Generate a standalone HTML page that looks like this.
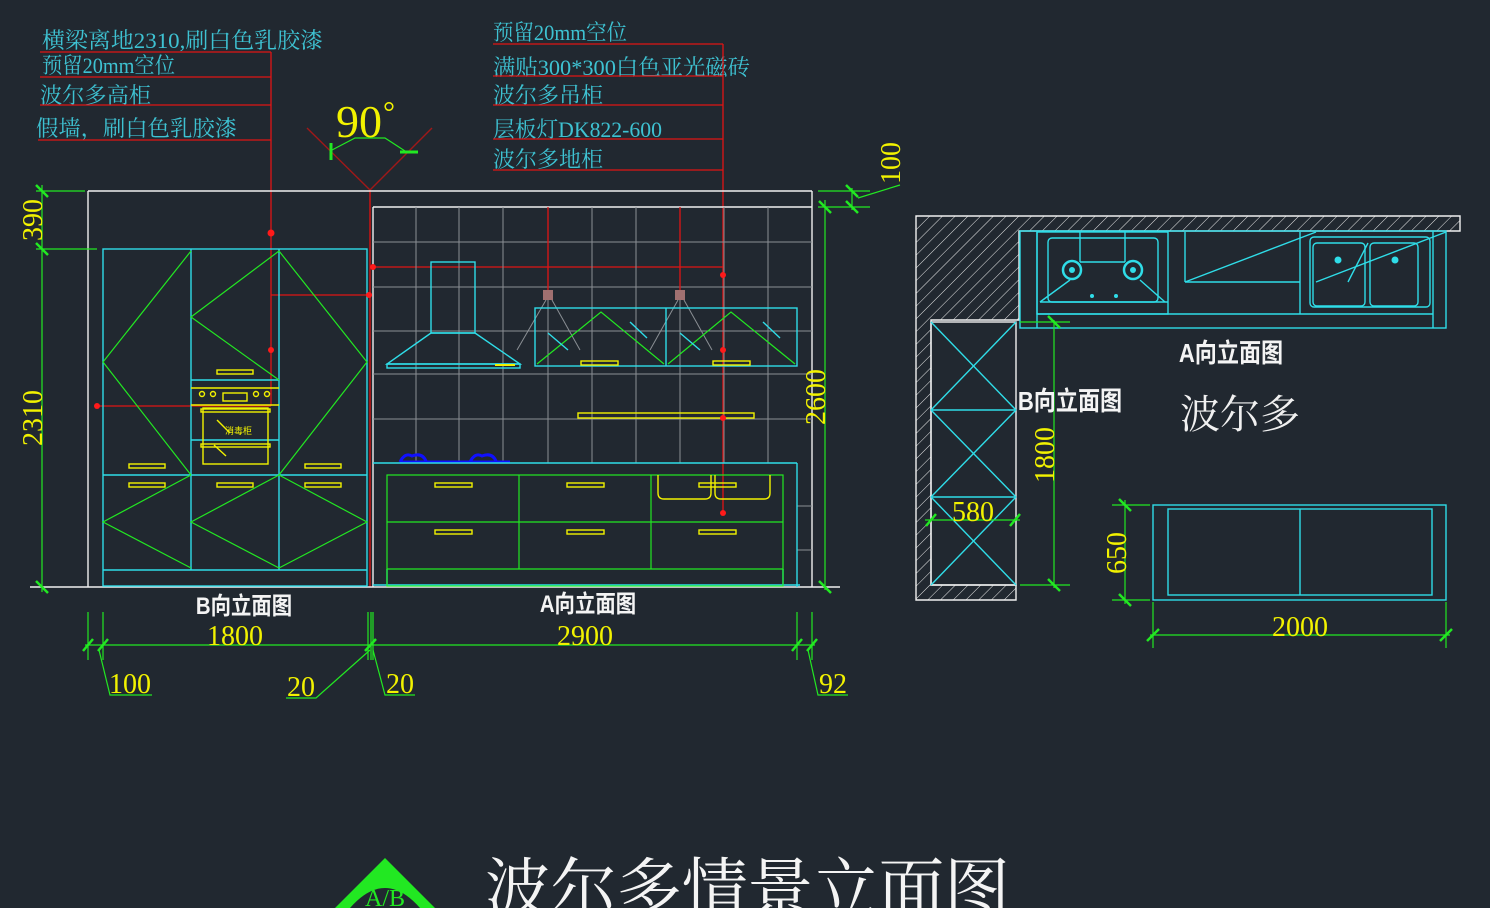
<!DOCTYPE html>
<html><head><meta charset="utf-8"><style>
html,body{margin:0;padding:0;background:#212830;}
svg{display:block}
.c{stroke:#2fdde8;fill:none;stroke-width:1.4}
.g{stroke:#22e822;fill:none;stroke-width:1.2}
.y{stroke:#f2f200;fill:none;stroke-width:1.4}
.r{stroke:#e01414;fill:none;stroke-width:1.3}
.w{stroke:#f0f0f0;fill:none;stroke-width:1.4}
.t{stroke:#8a8f94;fill:none;stroke-width:1}
.lbl{font-family:"Liberation Serif","Noto Serif CJK SC",serif;fill:#3ec2d2;font-size:22px}
.dim{font-family:"Liberation Serif","Noto Serif CJK SC",serif;fill:#f2f200}
.wt{font-family:"Liberation Sans","Noto Sans CJK SC",sans-serif;fill:#f4f4f4;font-weight:bold}
</style></head><body>
<svg width="1490" height="908" viewBox="0 0 1490 908" xmlns="http://www.w3.org/2000/svg">
<defs>
<pattern id="h" patternUnits="userSpaceOnUse" width="9" height="9" patternTransform="rotate(45)">
<line x1="0" y1="0" x2="0" y2="9" stroke="#e8e8e8" stroke-width="1"/>
</pattern>
</defs>
<rect width="1490" height="908" fill="#212830"/>

<!-- top-left labels -->
<text class="lbl" x="42" y="48" textLength="281" lengthAdjust="spacingAndGlyphs">横梁离地2310,刷白色乳胶漆</text>
<text class="lbl" x="42" y="73" textLength="133" lengthAdjust="spacingAndGlyphs">预留20mm空位</text>
<text class="lbl" x="40" y="103" textLength="111" lengthAdjust="spacingAndGlyphs">波尔多高柜</text>
<text class="lbl" x="36" y="136" textLength="201" lengthAdjust="spacingAndGlyphs">假墙，刷白色乳胶漆</text>
<g class="r">
<line x1="40" y1="52" x2="271" y2="52"/><line x1="40" y1="77" x2="271" y2="77"/>
<line x1="40" y1="105" x2="271" y2="105"/><line x1="38" y1="140" x2="271" y2="140"/>
<line x1="271" y1="52" x2="271" y2="406"/>
<line x1="271" y1="295" x2="369" y2="295"/>
<line x1="97" y1="406" x2="271" y2="406"/>
</g>
<!-- top-right labels -->
<text class="lbl" x="493" y="40" textLength="134" lengthAdjust="spacingAndGlyphs">预留20mm空位</text>
<text class="lbl" x="493" y="75" textLength="257" lengthAdjust="spacingAndGlyphs">满贴300*300白色亚光磁砖</text>
<text class="lbl" x="493" y="103" textLength="110" lengthAdjust="spacingAndGlyphs">波尔多吊柜</text>
<text class="lbl" x="493" y="137" textLength="169" lengthAdjust="spacingAndGlyphs">层板灯DK822-600</text>
<text class="lbl" x="493" y="167" textLength="110" lengthAdjust="spacingAndGlyphs">波尔多地柜</text>
<g class="r">
<line x1="493" y1="44" x2="723" y2="44"/><line x1="493" y1="76" x2="723" y2="76"/>
<line x1="493" y1="105" x2="723" y2="105"/><line x1="493" y1="139" x2="723" y2="139"/>
<line x1="493" y1="170" x2="723" y2="170"/>
<line x1="723" y1="44" x2="723" y2="515"/>
<line x1="373" y1="267" x2="723" y2="267"/>
</g>

<!-- 90 degree -->
<text class="dim" x="336" y="137" font-size="46">90</text>
<text class="dim" x="383" y="122" font-size="30">°</text>
<g stroke="#a01818" stroke-width="1.4" fill="none">
<line x1="307" y1="128" x2="370" y2="190"/><line x1="432" y1="128" x2="370" y2="190"/>
</g>
<line x1="370" y1="190" x2="370" y2="587" stroke="#c01414" stroke-width="1.6"/>
<polyline class="g" points="332,150 355,138 385,138 405,151"/>
<line x1="331" y1="143" x2="331" y2="160" stroke="#22e822" stroke-width="3"/>
<line x1="400" y1="152" x2="418" y2="152" stroke="#22e822" stroke-width="3"/>

<!-- outer frame -->
<g class="w">
<line x1="88" y1="191" x2="812" y2="191"/>
<line x1="88" y1="191" x2="88" y2="587"/>
<line x1="812" y1="191" x2="812" y2="587"/>
<line x1="373" y1="207" x2="812" y2="207"/>
<line x1="373" y1="207" x2="373" y2="587"/>
<line x1="30" y1="587" x2="840" y2="587"/>
</g>

<!-- tile grid -->
<g class="t">
<line x1="416" y1="207" x2="416" y2="463"/><line x1="459" y1="207" x2="459" y2="463"/>
<line x1="503" y1="207" x2="503" y2="463"/><line x1="548" y1="207" x2="548" y2="463"/>
<line x1="592" y1="207" x2="592" y2="463"/><line x1="636" y1="207" x2="636" y2="463"/>
<line x1="680" y1="207" x2="680" y2="463"/><line x1="724" y1="207" x2="724" y2="463"/>
<line x1="768" y1="207" x2="768" y2="463"/>
<line x1="373" y1="242" x2="812" y2="242"/><line x1="373" y1="287" x2="812" y2="287"/>
<line x1="373" y1="331" x2="812" y2="331"/><line x1="373" y1="374" x2="812" y2="374"/>
<line x1="373" y1="419" x2="812" y2="419"/>
<line x1="797" y1="506" x2="812" y2="506"/><line x1="797" y1="550" x2="812" y2="550"/>
</g>

<!-- B tall cabinet -->
<g class="c">
<rect x="103" y="249" width="264" height="337"/>
<line x1="191" y1="249" x2="191" y2="570"/><line x1="279" y1="249" x2="279" y2="570"/>
<line x1="103" y1="475" x2="367" y2="475"/><line x1="103" y1="570" x2="367" y2="570"/>
<line x1="191" y1="380" x2="279" y2="380"/><line x1="191" y1="440" x2="279" y2="440"/>
</g>
<g class="g">
<polyline points="191,251 103,362 191,475"/>
<polyline points="279,251 367,362 279,475"/>
<polyline points="279,251 191,317 279,380"/>
<polyline points="191,475 103,522 191,568"/>
<polyline points="279,475 191,522 279,568"/>
<polyline points="279,475 367,522 279,568"/>
</g>
<g class="y">
<rect x="217" y="370" width="36" height="4"/>
<line x1="191" y1="388" x2="279" y2="388"/><line x1="191" y1="405" x2="279" y2="405"/>
<circle cx="202" cy="394" r="2.5"/><circle cx="213" cy="394" r="2.5"/>
<circle cx="256" cy="394" r="2.5"/><circle cx="267" cy="394" r="2.5"/>
<rect x="223" y="393" width="24" height="8"/>
<rect x="203" y="408" width="65" height="56"/>
<rect x="201" y="409" width="69" height="3"/><rect x="201" y="444" width="69" height="3"/>
<line x1="217" y1="420" x2="230" y2="433"/><line x1="214" y1="445" x2="226" y2="456"/>
<rect x="129" y="464" width="36" height="4"/><rect x="305" y="464" width="36" height="4"/>
<rect x="129" y="483" width="36" height="4"/><rect x="217" y="483" width="36" height="4"/><rect x="305" y="483" width="36" height="4"/>
</g>
<text x="225" y="434" font-size="9" fill="#f2f200" font-family="Liberation Sans,Noto Sans CJK SC,sans-serif">消毒柜</text>

<!-- hood -->
<g class="c">
<rect x="431" y="262" width="44" height="71"/>
<polygon points="431,333 475,333 520,364 387,364"/>
<rect x="387" y="364" width="133" height="4"/>
</g>
<rect x="495" y="364" width="20" height="2" fill="#f2f200"/>

<!-- wall cabinets -->
<g class="r" stroke-width="1.6">
<line x1="548" y1="207" x2="548" y2="298"/><line x1="680" y1="207" x2="680" y2="298"/>
</g>
<rect x="543" y="290" width="10" height="10" fill="#a07070"/>
<rect x="675" y="290" width="10" height="10" fill="#a07070"/>
<g class="t">
<line x1="546" y1="300" x2="517" y2="350"/><line x1="552" y1="300" x2="580" y2="350"/>
<line x1="678" y1="300" x2="650" y2="350"/><line x1="684" y1="300" x2="712" y2="350"/>
</g>
<g class="c" stroke-width="2">
<rect x="535" y="308" width="262" height="58"/>
<line x1="666" y1="308" x2="666" y2="366"/>
</g>
<g class="g">
<polyline points="537,364 601,312 664,364"/>
<polyline points="668,364 731,312 795,364"/>
</g>
<g class="c" stroke-width="1">
<line x1="548" y1="333" x2="568" y2="350"/><line x1="630" y1="322" x2="647" y2="338"/>
<line x1="680" y1="333" x2="700" y2="350"/><line x1="763" y1="322" x2="780" y2="338"/>
</g>
<g class="y">
<rect x="581" y="361" width="37" height="4"/><rect x="713" y="361" width="37" height="4"/>
<rect x="578" y="413" width="176" height="5"/>
</g>

<!-- counter & base cabinet -->
<path d="M400 462 q5 -10 12 -6 q10 -4 14 5 M470 462 q5 -10 12 -6 q10 -4 14 5" stroke="#1010ff" stroke-width="3" fill="none"/>
<line x1="400" y1="462" x2="510" y2="462" stroke="#1010ff" stroke-width="3"/>
<g class="c">
<line x1="373" y1="463" x2="797" y2="463"/>
<line x1="797" y1="463" x2="797" y2="587"/>
<line x1="387" y1="569" x2="387" y2="586"/><line x1="783" y1="569" x2="783" y2="586"/>
<line x1="373" y1="585" x2="800" y2="585"/>
</g>
<g class="g">
<rect x="387" y="475" width="396" height="111"/>
<line x1="519" y1="475" x2="519" y2="569"/><line x1="651" y1="475" x2="651" y2="569"/>
<line x1="387" y1="522" x2="783" y2="522"/><line x1="387" y1="569" x2="783" y2="569"/>
</g>
<g class="y">
<rect x="435" y="483" width="37" height="4"/><rect x="567" y="483" width="37" height="4"/><rect x="699" y="483" width="37" height="4"/>
<rect x="435" y="530" width="37" height="4"/><rect x="567" y="530" width="37" height="4"/><rect x="699" y="530" width="37" height="4"/>
<path d="M658 475 v18 q0 6 6 6 h41 q6 0 6 -6 v-18"/>
<path d="M715 475 v18 q0 6 6 6 h43 q6 0 6 -6 v-18"/>
</g>

<!-- red dots -->
<g fill="#ff1a1a">
<circle cx="271" cy="233" r="3.5"/><circle cx="271" cy="350" r="3"/>
<circle cx="369" cy="295" r="3"/><circle cx="97" cy="406" r="3"/>
<circle cx="373" cy="267" r="3"/>
<circle cx="723" cy="275" r="3"/><circle cx="723" cy="350" r="3"/>
<circle cx="723" cy="418" r="3"/><circle cx="723" cy="513" r="3"/>
</g>

<!-- left dims -->
<g class="g">
<line x1="42" y1="185" x2="42" y2="592"/>
<line x1="36" y1="191" x2="85" y2="191"/><line x1="36" y1="249" x2="97" y2="249"/>
</g>
<g stroke="#22e822" stroke-width="2.5">
<line x1="36" y1="185" x2="48" y2="197"/><line x1="36" y1="243" x2="48" y2="255"/><line x1="36" y1="581" x2="48" y2="593"/>
</g>
<text class="dim" font-size="28" transform="translate(42,220) rotate(-90)" text-anchor="middle">390</text>
<text class="dim" font-size="28" transform="translate(42,418) rotate(-90)" text-anchor="middle">2310</text>

<!-- right dims -->
<g class="g">
<line x1="825" y1="200" x2="825" y2="590"/>
<line x1="818" y1="191" x2="870" y2="191"/><line x1="818" y1="207" x2="870" y2="207"/>
<line x1="852" y1="188" x2="852" y2="210"/>
<line x1="858" y1="198" x2="900" y2="185"/>
</g>
<g stroke="#22e822" stroke-width="2.5">
<line x1="819" y1="201" x2="831" y2="213"/><line x1="819" y1="581" x2="831" y2="593"/>
<line x1="846" y1="185" x2="858" y2="197"/><line x1="846" y1="201" x2="858" y2="213"/>
</g>
<text class="dim" font-size="28" transform="translate(825,397) rotate(-90)" text-anchor="middle">2600</text>
<text class="dim" font-size="28" transform="translate(900,163) rotate(-90)" text-anchor="middle">100</text>

<!-- bottom labels & dims -->
<text class="wt" x="244" y="614" font-size="24" text-anchor="middle" transform="translate(244,0) scale(0.85,1) translate(-244,0)">B向立面图</text>
<text class="wt" x="588" y="612" font-size="24" text-anchor="middle" transform="translate(588,0) scale(0.85,1) translate(-588,0)">A向立面图</text>
<g class="g">
<line x1="85" y1="645" x2="815" y2="645"/>
<line x1="88" y1="612" x2="88" y2="660"/><line x1="103" y1="612" x2="103" y2="660"/>
<line x1="368" y1="612" x2="368" y2="660"/><line x1="371" y1="612" x2="371" y2="660"/><line x1="373" y1="612" x2="373" y2="660"/>
<line x1="797" y1="612" x2="797" y2="660"/><line x1="812" y1="612" x2="812" y2="660"/>
<polyline points="99,650 110,695 152,695"/>
<polyline points="370,650 316,698 286,698"/>
<polyline points="373,650 385,695 415,695"/>
<polyline points="808,650 818,695 848,695"/>
</g>
<g stroke="#22e822" stroke-width="2.5">
<line x1="83" y1="651" x2="93" y2="639"/><line x1="98" y1="651" x2="108" y2="639"/>
<line x1="365" y1="651" x2="376" y2="639"/>
<line x1="792" y1="651" x2="802" y2="639"/><line x1="807" y1="651" x2="817" y2="639"/>
</g>
<g class="dim" font-size="28" text-anchor="middle">
<text x="235" y="645">1800</text><text x="585" y="645">2900</text>
<text x="130" y="693">100</text><text x="301" y="696">20</text>
<text x="400" y="693">20</text><text x="833" y="693">92</text>
</g>

<!-- plan view -->
<path d="M916 216 H1460 V231 H1019 V320 H931 V585 H1016 V600 H916 Z" fill="url(#h)"/>
<path d="M916 216 H1460 V231 H1019 V320 H931 V585 H1016 V600 H916 Z" class="w" stroke-width="1.2"/>
<rect x="931" y="322" width="85" height="263" class="w" stroke-width="1.2"/>
<g class="c" stroke-width="1">
<rect x="1020" y="231" width="426" height="97"/>
<line x1="1037" y1="231" x2="1037" y2="328"/><line x1="1037" y1="314" x2="1433" y2="314"/>
<line x1="1433" y1="231" x2="1433" y2="328"/>
<rect x="1037" y="232" width="131" height="82"/>
<rect x="1048" y="238" width="110" height="64" rx="4"/>
<line x1="1040" y1="302" x2="1168" y2="302"/>
<line x1="1080" y1="232" x2="1080" y2="262"/><line x1="1125" y1="232" x2="1125" y2="262"/>
<line x1="1080" y1="262" x2="1125" y2="262"/>
<line x1="1040" y1="302" x2="1070" y2="280"/><line x1="1165" y1="302" x2="1140" y2="280"/>
<line x1="1185" y1="232" x2="1185" y2="282"/><line x1="1185" y1="282" x2="1300" y2="282"/>
<line x1="1185" y1="282" x2="1316" y2="232"/>
<line x1="1300" y1="232" x2="1300" y2="314"/>
<rect x="1310" y="237" width="120" height="70" rx="4"/>
<rect x="1313" y="243" width="52" height="63" rx="4"/><rect x="1370" y="243" width="48" height="63" rx="4"/>
<line x1="1316" y1="282" x2="1446" y2="232"/>
<line x1="1348" y1="282" x2="1368" y2="243"/>
</g>
<g stroke="#2fdde8" stroke-width="2.5" fill="none">
<circle cx="1072" cy="270" r="9"/><circle cx="1133" cy="270" r="9"/>
</g>
<g fill="#2fdde8">
<circle cx="1072" cy="270" r="3"/><circle cx="1133" cy="270" r="3"/>
<circle cx="1338" cy="260" r="3.5"/><circle cx="1395" cy="260" r="3.5"/>
<circle cx="1092" cy="296" r="2"/><circle cx="1116" cy="296" r="2"/>
</g>
<g class="c" stroke-width="1">
<line x1="931" y1="410" x2="1016" y2="410"/><line x1="931" y1="497" x2="1016" y2="497"/>
<line x1="931" y1="322" x2="1016" y2="410"/><line x1="1016" y1="322" x2="931" y2="410"/>
<line x1="931" y1="410" x2="1016" y2="497"/><line x1="1016" y1="410" x2="931" y2="497"/>
<line x1="931" y1="497" x2="1016" y2="585"/><line x1="1016" y1="497" x2="931" y2="585"/>
</g>
<g class="g">
<line x1="1054" y1="320" x2="1054" y2="588"/>
<line x1="1020" y1="322" x2="1070" y2="322"/><line x1="1020" y1="585" x2="1070" y2="585"/>
<line x1="925" y1="520" x2="1020" y2="520"/>
<line x1="1125" y1="500" x2="1125" y2="604"/>
<line x1="1112" y1="505" x2="1150" y2="505"/><line x1="1112" y1="600" x2="1150" y2="600"/>
<line x1="1150" y1="635" x2="1450" y2="635"/>
<line x1="1153" y1="602" x2="1153" y2="648"/><line x1="1446" y1="602" x2="1446" y2="648"/>
</g>
<g stroke="#22e822" stroke-width="2.5">
<line x1="1048" y1="316" x2="1060" y2="328"/><line x1="1048" y1="579" x2="1060" y2="591"/>
<line x1="926" y1="526" x2="936" y2="514"/><line x1="1010" y1="526" x2="1020" y2="514"/>
<line x1="1119" y1="499" x2="1131" y2="511"/><line x1="1119" y1="594" x2="1131" y2="606"/>
<line x1="1147" y1="641" x2="1159" y2="629"/><line x1="1440" y1="641" x2="1452" y2="629"/>
</g>
<text class="dim" font-size="28" transform="translate(1054,455) rotate(-90)" text-anchor="middle">1800</text>
<text class="dim" font-size="28" x="973" y="521" text-anchor="middle">580</text>
<text class="dim" font-size="28" transform="translate(1126,553) rotate(-90)" text-anchor="middle">650</text>
<text class="dim" font-size="28" x="1300" y="636" text-anchor="middle">2000</text>
<g class="c" stroke-width="1.2">
<rect x="1153" y="505" width="293" height="95"/>
<rect x="1168" y="509" width="264" height="86"/>
<line x1="1300" y1="509" x2="1300" y2="595"/>
</g>
<text class="wt" x="1231" y="362" font-size="26" text-anchor="middle" transform="translate(1231,0) scale(0.85,1) translate(-1231,0)">A向立面图</text>
<text class="wt" x="1070" y="410" font-size="26" text-anchor="middle" transform="translate(1070,0) scale(0.85,1) translate(-1070,0)">B向立面图</text>
<text x="1180" y="428" font-size="40" fill="#f0f0f0" font-family="Liberation Serif,Noto Serif CJK SC,serif">波尔多</text>

<!-- title -->
<polygon points="385,858 335,908 435,908" fill="#22e822"/>
<path d="M350 908 q35 -40 70 0" fill="#212830"/>
<text x="385" y="906" font-size="24" fill="#22e822" text-anchor="middle" font-family="Liberation Serif,serif">A/B</text>
<text x="485" y="912" font-size="66" fill="#f4f4f4" font-family="Liberation Serif,Noto Serif CJK SC,serif" textLength="525">波尔多情景立面图</text>
</svg>
</body></html>
